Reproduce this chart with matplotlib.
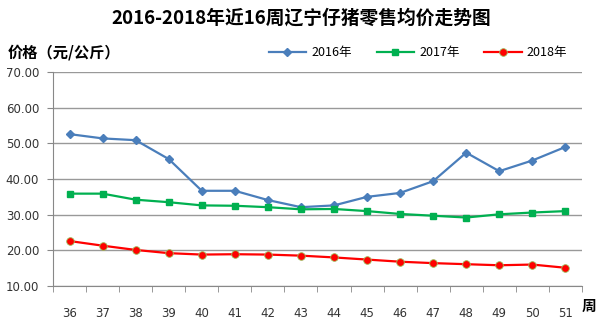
import numpy as np
import matplotlib
matplotlib.use("Agg")
import matplotlib.pyplot as plt

plt.rcParams['font.family'] = ['Noto Sans CJK SC', 'DejaVu Sans']

weeks = ["36", "37", "38", "39", "40", "41", "42", "43", "44", "45", "46", "47", "48", "49", "50", "51"]
price_2016 = [52.6, 51.4, 50.9, 45.6, 36.7, 36.7, 34.1, 32.1, 32.6, 35.0, 36.1, 39.4, 47.4, 42.2, 45.2, 49.0]
price_2017 = [35.9, 35.9, 34.2, 33.5, 32.6, 32.5, 32.1, 31.5, 31.6, 31.0, 30.2, 29.7, 29.2, 30.1, 30.6, 31.0]
price_2018 = [22.6, 21.3, 20.1, 19.2, 18.8, 18.9, 18.8, 18.5, 18.0, 17.4, 16.8, 16.4, 16.1, 15.8, 16.0, 15.1]
yticks = [10, 20, 30, 40, 50, 60, 70]

fig = plt.figure(figsize=(6.03, 3.22), dpi=100)
ax = fig.add_axes([0.088, 0.112, 0.877, 0.664])

x = np.arange(len(weeks))
ax.plot(x, price_2016, color="#4A7EBB", lw=1.6, marker="D", ms=4.5, label="2016年")
ax.plot(x, price_2017, color="#00B050", lw=1.6, marker="s", ms=4.8, label="2017年")
ax.plot(x, price_2018, color="#FF0000", lw=1.6, marker="o", ms=5.5,
        markeredgecolor="#9BBB59", markeredgewidth=0.6, label="2018年")

ax.set_xlim(-0.5, len(weeks) - 0.5)
ax.set_ylim(10, 70)
ax.set_yticks(yticks)
ax.set_yticklabels([f"{v:.2f}" for v in yticks], family="DejaVu Sans", fontsize=8.5, color="#333333")
ax.set_xticks(x)
ax.set_xticklabels(weeks, family="DejaVu Sans", fontsize=8.5, color="#333333")
ax.tick_params(axis="x", which="major", length=0, pad=15)
ax.set_xticks(np.arange(-0.5, len(weeks)), minor=True)
ax.tick_params(axis="x", which="minor", length=4, color="#888888", direction="out")
ax.tick_params(axis="y", length=4, color="#888888", pad=6)

ax.grid(axis="y", color="#999999", lw=1.0)
ax.set_axisbelow(True)
for s in ["top", "right"]:
    ax.spines[s].set_visible(False)
ax.spines["left"].set_color("#888888")
ax.spines["bottom"].set_color("#888888")

fig.text(0.5, 0.945, "2016-2018年近16周辽宁仔猪零售均价走势图", ha="center", va="center",
         fontsize=13.5, fontweight="bold")
fig.text(0.013, 0.838, "价格（元/公斤）", ha="left", va="center", fontsize=11, fontweight="bold")
fig.text(0.964, 0.05, "周", ha="left", va="center", fontsize=10.5, fontweight="bold")

ax.legend(loc="center", bbox_to_anchor=(0.69, 1.092), ncol=3, frameon=False,
          fontsize=9, handlelength=3.0, columnspacing=2.0, handletextpad=0.4)

fig.savefig("out.png", dpi=100)
